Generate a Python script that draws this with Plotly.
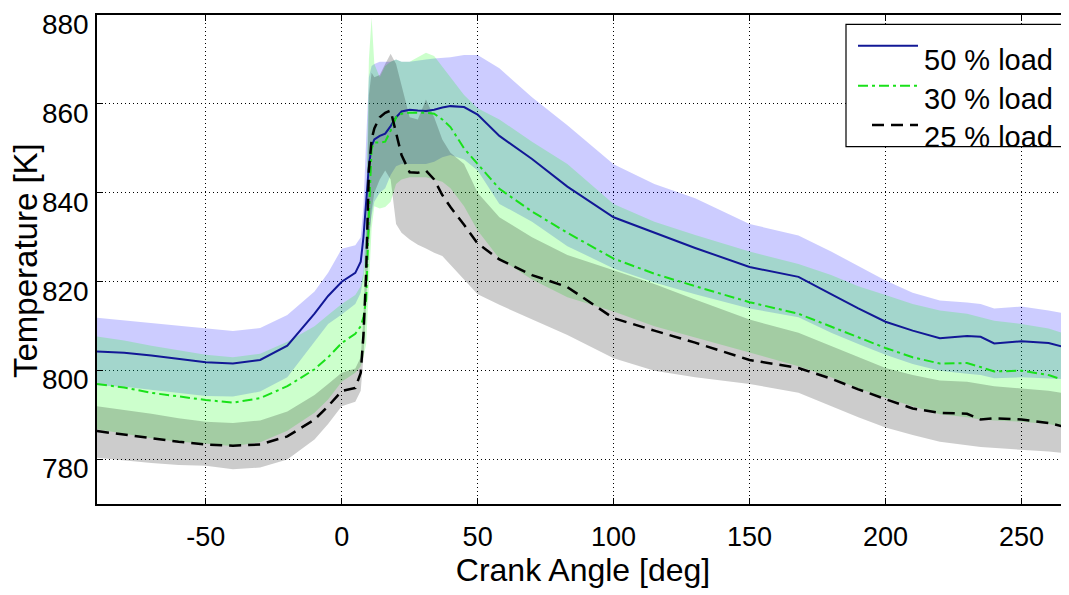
import plotly.graph_objects as go

# Crank angle grid [deg]
crank_angle = [-90, -80, -70, -60, -50, -40, -30, -20, -10, -5, 0, 5, 7, 8, 9, 10, 11, 12, 14, 16,
               18, 20, 22, 25, 28, 31, 34, 37, 40, 45, 50, 58, 70, 83, 100, 115, 130, 150, 168, 180,
               190, 200, 210, 220, 230, 235, 240, 250, 260, 270]

# 50 % load
load50_mean = [804.3, 804.0, 803.4, 802.6, 801.9, 801.6, 802.4, 805.6, 812.8, 816.8, 820.0, 822.0, 824.5, 830.0, 838.0,
               846.0, 850.5, 852.0, 852.8, 853.3, 855.0, 857.0, 858.3, 858.7, 858.5, 858.4, 858.7, 859.2, 859.5, 859.3,
               857.6, 852.8, 847.6, 841.4, 834.5, 831.0, 827.6, 823.3, 821.1, 817.2, 814.0, 811.0, 809.0, 807.3, 807.8,
               807.6, 806.1, 806.6, 806.2, 804.6]
load50_upper = [811.9, 811.3, 810.7, 810.0, 809.5, 808.9, 809.6, 812.5, 817.8, 822.0, 827.4, 828.2, 830.0, 837.0, 852.0,
                866.0, 868.5, 869.0, 869.5, 869.5, 869.5, 870.0, 869.5, 869.5, 869.8, 870.0, 870.2, 870.3, 870.5, 871.0,
                871.0, 868.0, 861.5, 855.2, 846.4, 842.0, 838.8, 833.0, 830.4, 826.8, 823.5, 820.3, 817.5, 815.8, 815.3,
                815.0, 814.0, 814.4, 813.5, 812.5]
load50_lower = [796.7, 796.4, 795.8, 795.0, 794.3, 794.2, 795.3, 798.5, 806.5, 810.5, 812.6, 815.0, 817.5, 821.0, 825.0,
                830.0, 835.0, 838.0, 840.0, 841.0, 844.0, 846.0, 846.5, 846.5, 846.5, 846.5, 847.0, 848.0, 848.5, 847.5,
                845.0, 837.5, 833.5, 828.0, 823.0, 819.8, 817.2, 814.0, 812.0, 808.5, 806.0, 803.6, 801.5, 800.0, 799.3,
                799.0, 798.3, 798.5, 798.3, 798.0]

# 30 % load
load30_mean = [797.0, 796.2, 795.0, 794.2, 793.4, 792.8, 793.8, 796.5, 800.3, 803.0, 806.2, 808.3, 810.0, 812.0, 816.0,
               835.0, 850.0, 851.3, 851.3, 851.5, 854.0, 857.0, 857.8, 858.0, 858.0, 858.0, 857.8, 856.5, 854.8, 850.0,
               846.5, 840.9, 835.8, 831.0, 825.2, 821.8, 819.0, 815.4, 812.8, 810.0, 807.5, 805.1, 803.0, 801.6, 801.7,
               800.8, 799.8, 800.0, 799.0, 797.0]
load30_upper = [807.7, 806.8, 805.6, 804.6, 803.6, 803.0, 803.8, 806.5, 810.0, 812.5, 815.0, 817.0, 819.0, 822.0, 835.0,
                870.0, 879.5, 869.0, 866.0, 868.5, 869.5, 870.0, 869.5, 869.5, 870.5, 871.5, 870.8, 868.5, 866.0, 862.0,
                859.0, 856.5, 851.5, 846.5, 837.5, 833.5, 830.5, 826.8, 824.0, 821.5, 819.0, 817.0, 815.0, 813.5, 812.8,
                812.0, 811.2, 810.5, 809.5, 807.5]
load30_lower = [786.8, 785.8, 784.8, 784.0, 783.6, 783.0, 783.9, 786.5, 790.5, 793.5, 797.5, 799.5, 801.0, 803.0, 806.0,
                820.0, 832.0, 837.0, 836.5, 836.8, 838.0, 842.0, 843.0, 843.5, 843.5, 843.5, 843.0, 842.5, 841.0, 837.0,
                831.5, 825.2, 820.5, 816.5, 813.3, 810.0, 807.5, 804.0, 801.0, 798.5, 796.0, 793.9, 792.0, 790.2, 789.5,
                789.0, 788.8, 788.5, 788.0, 786.8]

# 25 % load
load25_mean = [786.4, 785.6, 784.8, 784.0, 783.4, 783.1, 783.4, 785.2, 789.0, 792.0, 795.4, 796.1, 799.5, 808.0, 822.0,
               845.0, 852.0, 854.5, 857.0, 858.0, 858.5, 853.5, 848.5, 844.6, 844.5, 845.0, 843.0, 839.5, 836.8, 832.8,
               828.6, 825.0, 821.5, 818.8, 811.8, 809.0, 806.3, 802.4, 800.6, 798.2, 795.8, 793.6, 791.5, 790.5, 790.3,
               789.0, 789.3, 789.0, 788.2, 786.8]
load25_upper = [792.0, 791.2, 790.3, 789.3, 788.5, 788.2, 788.8, 790.8, 794.5, 797.0, 799.5, 800.5, 803.0, 812.0, 830.0,
                862.0, 867.0, 866.0, 866.5, 869.0, 871.3, 869.0, 864.0, 857.0, 856.5, 861.0, 857.0, 852.0, 849.0, 846.5,
                840.0, 834.5, 830.0, 826.0, 822.6, 819.5, 816.0, 811.5, 808.5, 805.5, 803.0, 800.6, 799.0, 797.8, 797.5,
                797.0, 796.5, 796.0, 795.5, 794.5]
load25_lower = [780.4, 779.8, 779.2, 778.8, 778.6, 777.8, 778.2, 780.0, 784.5, 788.0, 792.0, 793.0, 795.5, 803.0, 815.0,
                828.0, 836.0, 840.0, 843.0, 845.0, 843.0, 833.0, 831.0, 829.5, 828.3, 827.5, 826.5, 825.8, 824.0, 820.5,
                817.2, 814.8, 811.6, 808.0, 802.8, 800.0, 798.5, 797.0, 795.0, 792.0, 789.5, 787.2, 785.5, 784.0, 783.2,
                782.8, 782.5, 782.2, 781.8, 781.2]

x_ticks = [-50, 0, 50, 100, 150, 200, 250]
y_ticks = [780, 800, 820, 840, 860, 880]

series = [
    ("50 % load", load50_mean, load50_upper, load50_lower, "rgba(0,0,255,0.2)", "rgb(18,24,150)", "solid", 2),
    ("30 % load", load30_mean, load30_upper, load30_lower, "rgba(0,255,0,0.2)", "rgb(25,225,25)", "10px,4px,3px,4px", 2),
    ("25 % load", load25_mean, load25_upper, load25_lower, "rgba(0,0,0,0.2)", "rgb(0,0,0)", "12px,7px", 2.5),
]

fig = go.Figure()
for name, m, up, lo, fc, lc, dash, w in series:
    fig.add_trace(go.Scatter(
        x=crank_angle + crank_angle[::-1], y=up + lo[::-1],
        fill="toself", fillcolor=fc, line=dict(width=0), mode="lines",
        hoverinfo="skip", showlegend=False))
for name, m, up, lo, fc, lc, dash, w in series:
    fig.add_trace(go.Scatter(
        x=crank_angle, y=m, mode="lines", name=name,
        line=dict(color=lc, width=w, dash=dash), showlegend=False))

FONT = "Liberation Sans, Arial, sans-serif"

# The page body adds an 8 px offset, so the figure is sized to fill the rest of the window.
fig.update_layout(
    width=1061, height=587,
    margin=dict(l=89, r=0, t=7, b=91, autoexpand=False),
    paper_bgcolor="white", plot_bgcolor="white",
    font=dict(family=FONT, color="black", size=27),
    showlegend=False,
)
fig.update_xaxes(
    range=[-90, 267.5], tickvals=x_ticks, ticktext=[str(v) for v in x_ticks],
    showline=True, linecolor="black", linewidth=1.5, mirror="ticks",
    ticks="inside", ticklen=6, tickcolor="black", tickwidth=1,
    showgrid=True, gridcolor="black", gridwidth=1, griddash="1px,3px",
    zeroline=False, tickfont=dict(size=27), ticklabelstandoff=8, automargin=False,
    title=dict(text="Crank Angle [deg]", font=dict(size=32), standoff=2),
)
fig.update_yaxes(
    range=[770, 880], tickvals=y_ticks, ticktext=[str(v) for v in y_ticks],
    showline=True, linecolor="black", linewidth=1.5, mirror=False,
    ticks="inside", ticklen=6, tickcolor="black", tickwidth=1,
    showgrid=True, gridcolor="black", gridwidth=1, griddash="1px,3px",
    zeroline=False, tickfont=dict(size=28), ticklabelstandoff=1, automargin=False,
    ticklabelshift=9, ticklabeloverflow="allow",
)

# Legend box and y title (MATLAB style); positions given in window pixels
def px_to_paper_x(px):
    return (px - 97) / 972.0

def px_to_paper_y(py):
    return (504 - py) / 489.0

fig.add_annotation(text="Temperature [K]", xref="paper", yref="paper",
                   x=px_to_paper_x(25), y=px_to_paper_y(261), textangle=-90,
                   xanchor="center", yanchor="middle", showarrow=False,
                   font=dict(size=33, family=FONT, color="black"))

fig.add_shape(type="rect", xref="paper", yref="paper",
              x0=px_to_paper_x(846), x1=1.02, y0=px_to_paper_y(146.7), y1=px_to_paper_y(24.3),
              line=dict(color="black", width=1.2), fillcolor="white", layer="above")
leg_line_y = [45.7, 85.7, 125.0]
leg_text_y = [60, 99, 137]
leg_x0 = [858, 858, 872]
for (name, m, up, lo, fc, lc, dash, w), ly, ty, lx0 in zip(series, leg_line_y, leg_text_y, leg_x0):
    fig.add_shape(type="line", xref="paper", yref="paper",
                  x0=px_to_paper_x(lx0), x1=px_to_paper_x(918),
                  y0=px_to_paper_y(ly), y1=px_to_paper_y(ly),
                  line=dict(color=lc, width=w, dash=dash), layer="above")
    fig.add_annotation(text=name, xref="paper", yref="paper",
                       x=px_to_paper_x(922), y=px_to_paper_y(ty),
                       xanchor="left", yanchor="middle", showarrow=False,
                       font=dict(size=29, family=FONT, color="black"))

fig.write_html("out.html")
